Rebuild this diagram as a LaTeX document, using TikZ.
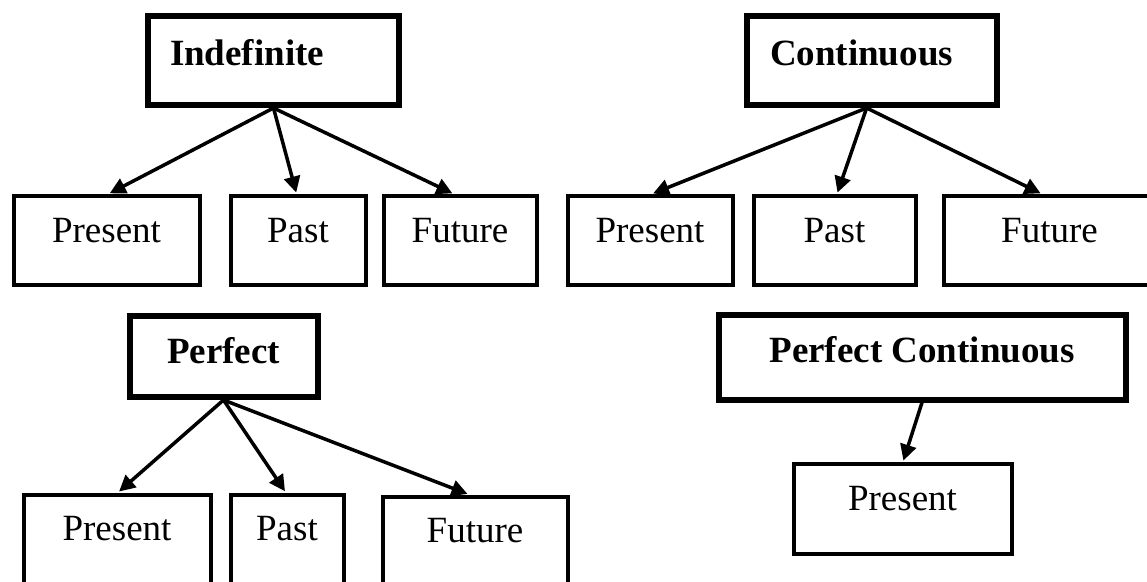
\documentclass[tikz,border=0pt]{standalone}
\usepackage{fontspec}
\setmainfont{Liberation Serif}
\usetikzlibrary{arrows.meta,calc}
\begin{document}
\begin{tikzpicture}[x=1pt,y=-1pt,
  every node/.style={font=\fontsize{37}{44}\selectfont, inner sep=0pt},
  thinbox/.style={draw, line width=4pt, inner sep=0pt, anchor=base},
  thickbox/.style={draw, line width=6pt, inner sep=0pt, font=\fontsize{37}{44}\selectfont\bfseries},
  arr/.style={line width=3.5pt, -{Triangle[length=16pt,width=16pt]}, shorten >=1.5pt}]
\useasboundingbox (0,0) rectangle (1147,581);
\clip (0,0) rectangle (1147,581);

% Indefinite group
\node[thickbox, anchor=base west, text width=207pt, align=left, inner xsep=22pt, text height=49pt, text depth=40pt] (ind) at (145,65) {Indefinite};
\node[thinbox, minimum width=186pt, text height=46pt, text depth=42.5pt] (p1) at (106.5,242) {Present};
\node[thinbox, minimum width=135pt, text height=46pt, text depth=42.5pt] (pa1) at (298,242) {Past};
\node[thinbox, minimum width=153pt, text height=46pt, text depth=42.5pt] (f1) at (460,242) {Future};

% Continuous group
\node[thickbox, anchor=base west, text width=203.5pt, align=left, inner xsep=23.5pt, text height=49pt, text depth=40pt] (cont) at (743.5,65) {Continuous};
\node[thinbox, minimum width=165pt, text height=46pt, text depth=42.5pt] (p2) at (650,242) {Present};
\node[thinbox, minimum width=162pt, text height=46pt, text depth=42.5pt] (pa2) at (834.5,242) {Past};
\node[thinbox, minimum width=212pt, text height=46pt, text depth=42.5pt] (f2) at (1049.5,242) {Future};

% Perfect group
\node[thickbox, anchor=base, minimum width=188pt, text height=47.5pt, text depth=34pt] (perf) at (223.5,363) {Perfect};
\node[thinbox, minimum width=187pt, text height=45.5pt, text depth=50pt] (p3) at (117,540) {Present};
\node[thinbox, minimum width=113pt, text height=45.5pt, text depth=50pt] (pa3) at (287,540) {Past};
\node[thinbox, minimum width=185pt, text height=45.5pt, text depth=50pt] (f3) at (475,542) {Future};

% Perfect Continuous group
\node[thickbox, anchor=base, minimum width=407pt, text height=47.5pt, text depth=37.5pt] (pc) at (922,362) {Perfect Continuous};
\node[thinbox, minimum width=218pt, text height=46pt, text depth=43.5pt] (p4) at (902.5,510) {Present};

% Arrows
\draw[arr] (ind.south) -- ($(p1.north west)!0.51!(p1.north east)$);
\draw[arr] (ind.south) -- ($(pa1.north west)!0.49!(pa1.north east)$);
\draw[arr] (ind.south) -- ($(f1.north west)!0.46!(f1.north east)$);

\coordinate (conthub) at ($(cont.south west)!0.48!(cont.south east)$);
\draw[arr] (conthub) -- ($(p2.north west)!0.51!(p2.north east)$);
\draw[arr] (conthub) -- ($(pa2.north west)!0.515!(pa2.north east)$);
\draw[arr] (conthub) -- ($(f2.north west)!0.465!(f2.north east)$);

\draw[arr] (perf.south) -- ($(p3.north west)!0.505!(p3.north east)$);
\draw[arr] (perf.south) -- ($(pa3.north west)!0.49!(pa3.north east)$);
\draw[arr] (perf.south) -- ($(f3.north west)!0.468!(f3.north east)$);

\draw[arr] (pc.south) -- ($(p4.north west)!0.502!(p4.north east)$);
\end{tikzpicture}
\end{document}
